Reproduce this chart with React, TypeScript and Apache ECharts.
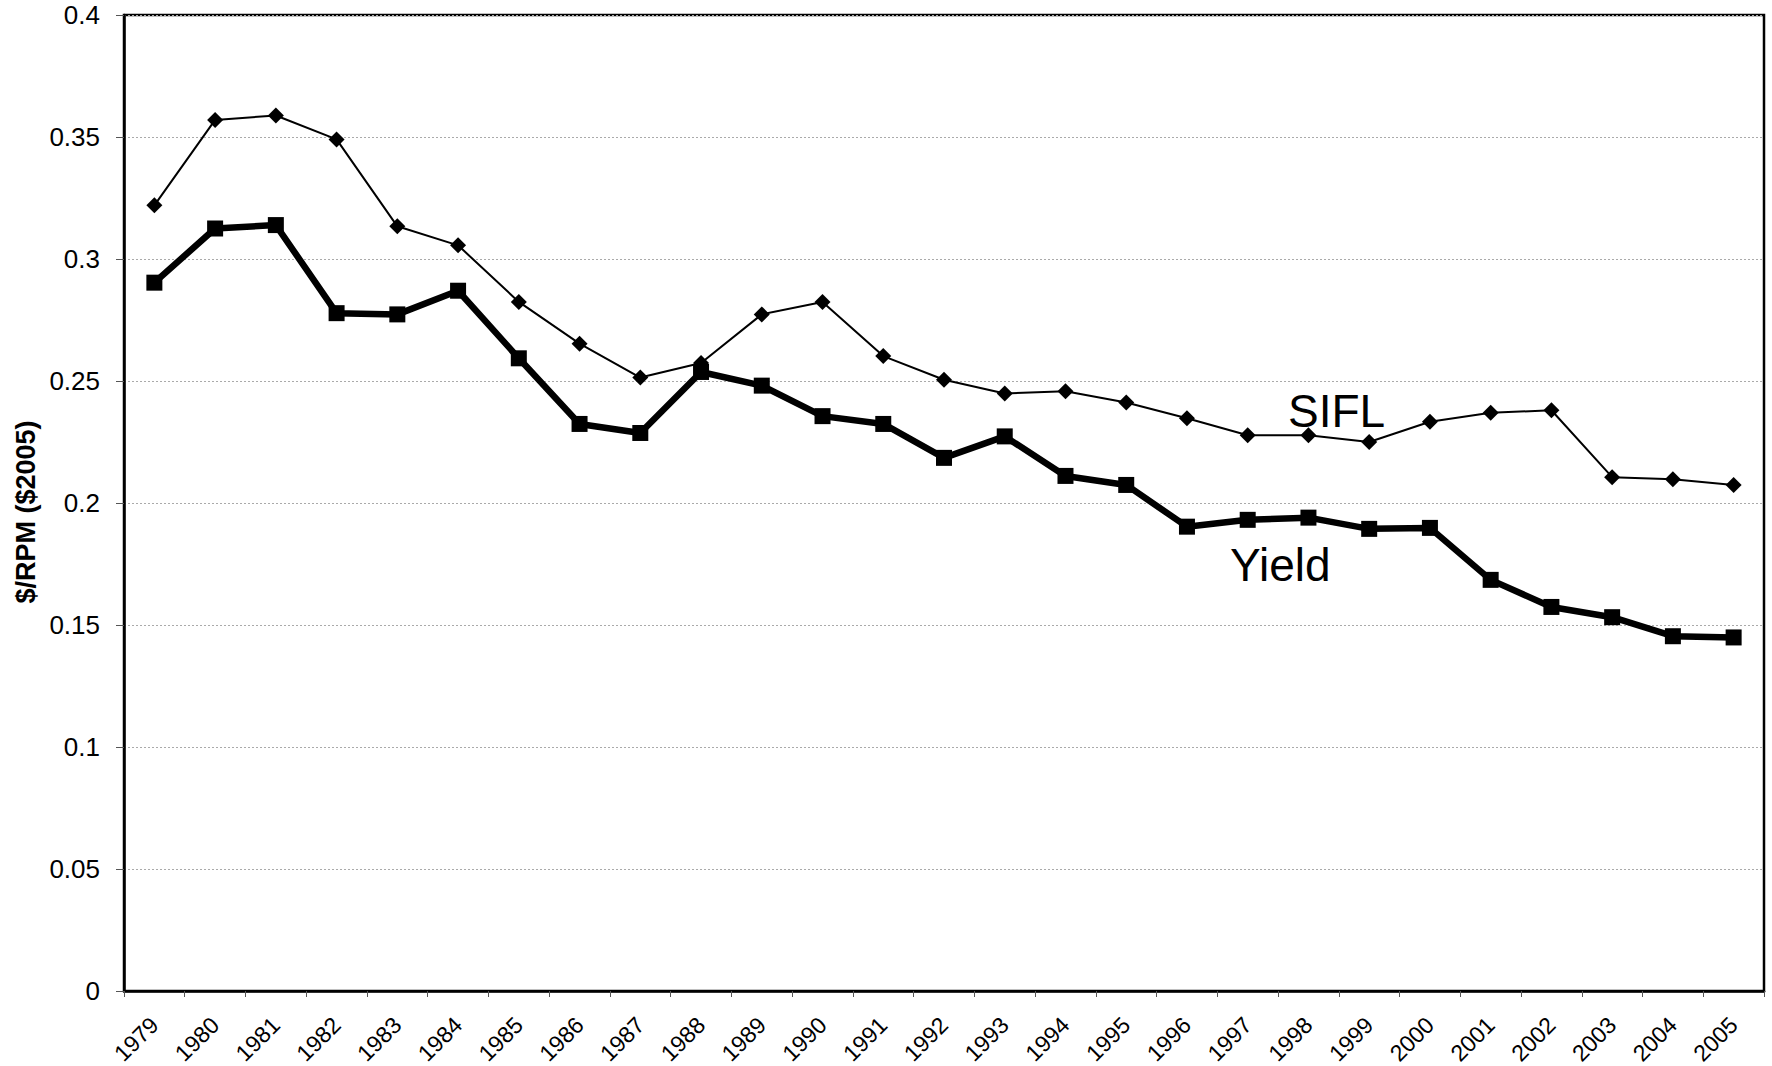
import React, { useEffect, useRef } from "react";
import * as echarts from "echarts";

const years = [
  "1979", "1980", "1981", "1982", "1983", "1984", "1985", "1986", "1987",
  "1988", "1989", "1990", "1991", "1992", "1993", "1994", "1995", "1996",
  "1997", "1998", "1999", "2000", "2001", "2002", "2003", "2004", "2005",
];

const sifl = [
  0.322, 0.357, 0.3588, 0.349, 0.3134, 0.3056, 0.2824, 0.2653, 0.2514,
  0.2574, 0.2773, 0.2824, 0.2602, 0.2505, 0.2449, 0.2458, 0.2412, 0.2347,
  0.2278, 0.2278, 0.225, 0.2333, 0.237, 0.238, 0.2106, 0.2097, 0.2074,
];

const yieldVals = [
  0.2903, 0.3125, 0.3139, 0.2778, 0.2773, 0.287, 0.2593, 0.2324, 0.2287,
  0.2537, 0.2481, 0.2356, 0.2324, 0.2185, 0.2273, 0.2111, 0.2074, 0.1903,
  0.1931, 0.194, 0.1894, 0.1898, 0.1685, 0.1574, 0.1532, 0.1454, 0.1449,
];

const yTitle = "$/RPM ($2005)";
const FONT = "'Liberation Sans', Arial, Helvetica, sans-serif";

export default function App() {
  const ref = useRef<HTMLDivElement>(null);

  useEffect(() => {
    if (!ref.current) return;
    const chart = echarts.init(ref.current, undefined, { renderer: "svg" });
    chart.setOption({
      animation: false,
      backgroundColor: "#ffffff",
      textStyle: { fontFamily: FONT },
      grid: {
        left: 124,
        right: 8,
        top: 15,
        bottom: 75,
        show: true,
        borderColor: "#000",
        borderWidth: 2.5,
        containLabel: false,
        outerBoundsMode: "none",
      },
      xAxis: {
        type: "category",
        data: years,
        boundaryGap: true,
        axisLine: { show: true, lineStyle: { color: "#000", width: 2.5 } },
        axisTick: {
          show: true,
          alignWithLabel: false,
          length: 6,
          lineStyle: { color: "#555", width: 1 },
        },
        axisLabel: {
          rotate: 45,
          interval: 0,
          margin: 30,
          fontSize: 23,
          color: "#000",
          fontFamily: FONT,
        },
        splitLine: { show: false },
      },
      yAxis: {
        type: "value",
        min: 0,
        max: 0.4,
        interval: 0.05,
        axisLine: { show: true, lineStyle: { color: "#000", width: 2.5 } },
        axisTick: {
          show: true,
          length: 8,
          lineStyle: { color: "#555", width: 1 },
        },
        axisLabel: {
          margin: 24,
          fontSize: 26,
          color: "#000",
          fontFamily: FONT,
          formatter: (v: number) => String(parseFloat(v.toFixed(2))),
        },
        splitLine: {
          show: true,
          lineStyle: { color: "#aaaaaa", width: 1, type: [2, 2] },
        },
      },
      series: [
        {
          name: "SIFL",
          type: "line",
          data: sifl,
          symbol: "diamond",
          symbolSize: 16,
          lineStyle: { color: "#000", width: 2 },
          itemStyle: { color: "#000" },
          z: 3,
        },
        {
          name: "Yield",
          type: "line",
          data: yieldVals,
          symbol: "rect",
          symbolSize: 16,
          lineStyle: { color: "#000", width: 6.5 },
          itemStyle: { color: "#000" },
          z: 4,
        },
      ],
      graphic: [
        {
          type: "text",
          x: 26,
          y: 512,
          rotation: Math.PI / 2,
          style: {
            text: yTitle,
            fontSize: 27,
            fontWeight: "bold",
            fontFamily: FONT,
            fill: "#000",
            align: "center",
            verticalAlign: "middle",
          },
        },
        {
          type: "text",
          x: 1288,
          y: 411,
          style: {
            text: "SIFL",
            fontSize: 46,
            fontFamily: FONT,
            fill: "#000",
            align: "left",
            verticalAlign: "middle",
          },
        },
        {
          type: "text",
          x: 1230,
          y: 565,
          style: {
            text: "Yield",
            fontSize: 46,
            fontFamily: FONT,
            fill: "#000",
            align: "left",
            verticalAlign: "middle",
          },
        },
      ],
    });
    return () => chart.dispose();
  }, []);

  return (
    <div
      ref={ref}
      style={{ position: "fixed", left: 0, top: 0, width: 1772, height: 1066 }}
    />
  );
}
